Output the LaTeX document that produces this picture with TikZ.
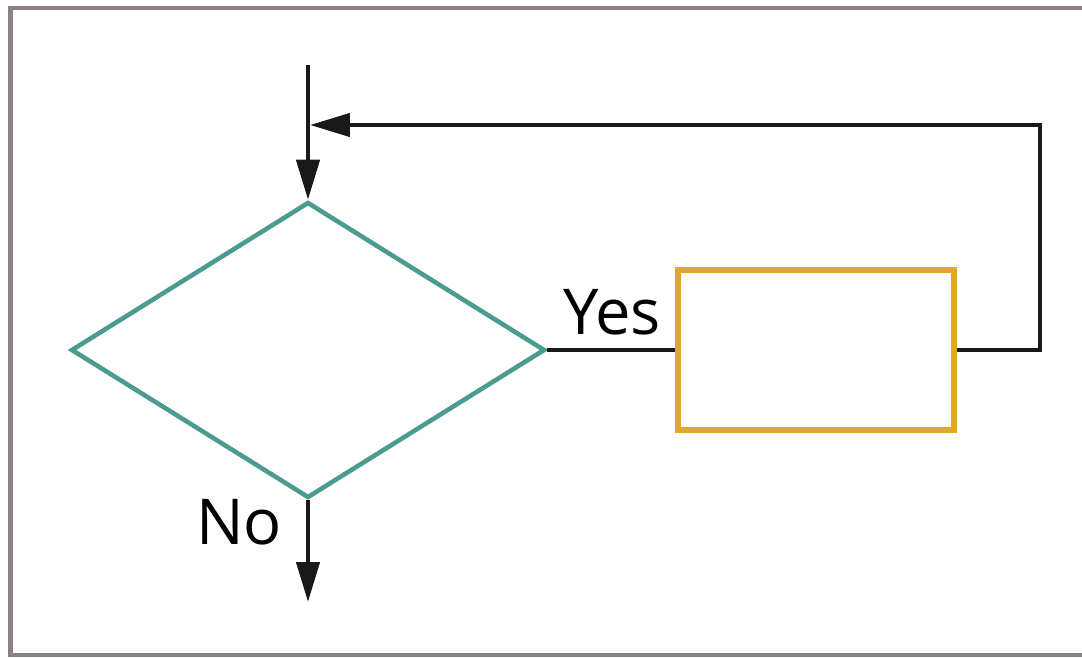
\documentclass[tikz,border=0pt]{standalone}
\usepackage{fontspec}
\setmainfont{Open Sans}
\usepackage{tikz}
\usetikzlibrary{arrows.meta,shapes.geometric}

\definecolor{frame}{RGB}{140,130,130}
\definecolor{teal}{RGB}{75,155,145}
\definecolor{gold}{RGB}{226,166,42}

\tikzset{
  flow/.style={line width=2.5pt, black!90},
  tip/.style={-{Triangle[length=0.8cm,width=0.46cm]}},
  lbl/.style={font=\fontsize{36}{42}\selectfont, inner sep=0pt},
}

\begin{document}
\begin{tikzpicture}[x=0.02cm,y=-0.02cm]
    \useasboundingbox (0,0) rectangle (1082,658);
    \draw[frame, line width=2.8pt] (10.5,8) -- (10.5,655) -- (1095,655) -- (1095,8) -- cycle;
    \node[diamond, draw=teal, line width=2.6pt, inner sep=0pt, aspect=1.6,
          minimum width=9.48cm, minimum height=5.92cm] (dec) at (308,350) {};
    \node[rectangle, draw=gold, line width=3.4pt, inner sep=0pt,
          minimum width=5.52cm, minimum height=3.2cm] (proc) at (816,350) {};
    \coordinate (in) at (308,65);
    \coordinate (out) at (308,602);
    \coordinate (back) at (1040,350);
    \coordinate (join) at (310,125);
    \draw[flow, tip] (in) -- (dec.north);
    \draw[flow, tip] (dec.south) -- (out);
    \draw[flow] (dec.east) -- (proc.west);
    \draw[flow, tip] (proc.east) -- (back) |- (join);
    \node[lbl] (yes) at (612,312) {Yes};
    \node[lbl] (no) at (239,522) {No};
\end{tikzpicture}
\end{document}
